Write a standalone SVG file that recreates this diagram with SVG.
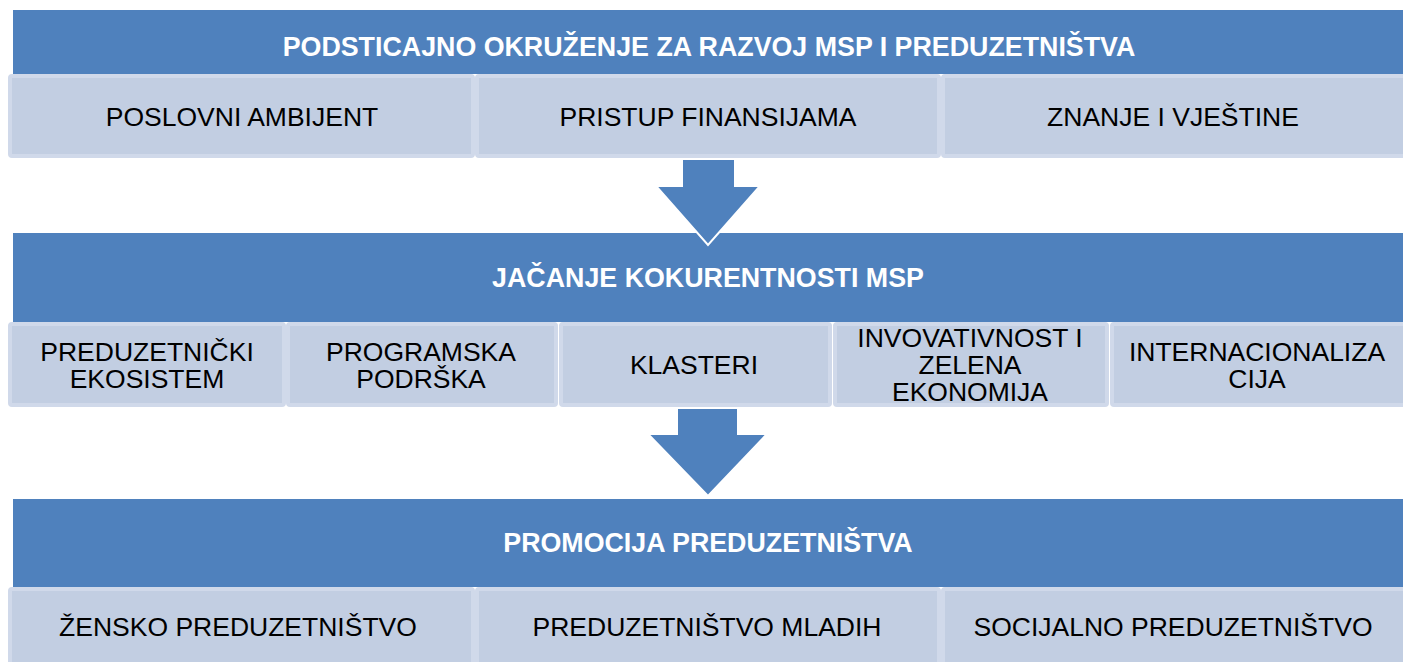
<svg xmlns="http://www.w3.org/2000/svg" width="1403" height="662" viewBox="0 0 1403 662">
<style>
.hdr{fill:#4f81bd}
.cell{fill:#c2cee2;stroke:#d0d9ea;stroke-width:4}
.ht{font-family:"Liberation Sans",Arial,sans-serif;font-weight:bold;font-size:26.8px;fill:#ffffff;text-anchor:middle}
.ct{font-family:"Liberation Sans",Arial,sans-serif;font-size:26.5px;fill:#000000;text-anchor:middle}
.arr{fill:#4f81bd;stroke:#ffffff;stroke-width:2;stroke-linejoin:miter}
</style>
<rect width="1403" height="662" fill="#ffffff"/>
<g id="header1">
<rect class="hdr" x="13" y="10" width="1395" height="64"/>
<text class="ht" x="709" y="56">PODSTICAJNO OKRUŽENJE ZA RAZVOJ MSP I PREDUZETNIŠTVA</text>
</g>
<g id="poslovni-ambijent">
<rect class="cell" x="10" y="76" width="463" height="80" rx="2"/>
<text class="ct" x="242" y="126">POSLOVNI AMBIJENT</text>
</g>
<g id="pristup-finansijama">
<rect class="cell" x="477" y="76" width="462" height="80" rx="2"/>
<text class="ct" x="708" y="126">PRISTUP FINANSIJAMA</text>
</g>
<g id="znanje-vjestine">
<rect class="cell" x="943" y="76" width="464" height="80" rx="2"/>
<text class="ct" x="1173" y="126">ZNANJE I VJEŠTINE</text>
</g>
<g id="header2">
<rect class="hdr" x="13" y="233" width="1395" height="89"/>
<text class="ht" x="708" y="287">JAČANJE KOKURENTNOSTI MSP</text>
</g>
<g id="preduzetnicki-ekosistem">
<rect class="cell" x="10" y="324" width="274" height="81" rx="2"/>
<text class="ct" x="147" y="361">PREDUZETNIČKI<tspan x="147" dy="26.5">EKOSISTEM</tspan></text>
</g>
<g id="programska-podrska">
<rect class="cell" x="288" y="324" width="268" height="81" rx="2"/>
<text class="ct" x="421" y="361">PROGRAMSKA<tspan x="421" dy="26.5">PODRŠKA</tspan></text>
</g>
<g id="klasteri">
<rect class="cell" x="561" y="324" width="269" height="81" rx="2"/>
<text class="ct" x="694" y="374">KLASTERI</text>
</g>
<g id="inovativnost">
<rect class="cell" x="835" y="324" width="272" height="81" rx="2"/>
<text class="ct" x="970" y="347">INVOVATIVNOST I<tspan x="970" dy="27">ZELENA</tspan><tspan x="970" dy="27">EKONOMIJA</tspan></text>
</g>
<g id="internacionalizacija">
<rect class="cell" x="1112" y="324" width="295" height="81" rx="2"/>
<text class="ct" x="1257" y="361">INTERNACIONALIZA<tspan x="1257" dy="26.5">CIJA</tspan></text>
</g>
<g id="header3">
<rect class="hdr" x="13" y="499" width="1395" height="88"/>
<text class="ht" x="708" y="552">PROMOCIJA PREDUZETNIŠTVA</text>
</g>
<g id="zensko">
<rect class="cell" x="10" y="589" width="463" height="80" rx="2"/>
<text class="ct" x="238" y="636">ŽENSKO PREDUZETNIŠTVO</text>
</g>
<g id="mladih">
<rect class="cell" x="477" y="589" width="462" height="80" rx="2"/>
<text class="ct" x="707" y="636">PREDUZETNIŠTVO MLADIH</text>
</g>
<g id="socijalno">
<rect class="cell" x="943" y="589" width="464" height="80" rx="2"/>
<text class="ct" x="1173" y="636">SOCIJALNO PREDUZETNIŠTVO</text>
</g>
<g id="connectors">
<path class="arr" d="M682 159 L735 159 L735 186 L760 186 L708 245 L656 186 L682 186 Z"/>
<path class="arr" d="M677 408 L738 408 L738 434 L767 434 L708 496 L648 434 L677 434 Z"/>
</g>
</svg>
